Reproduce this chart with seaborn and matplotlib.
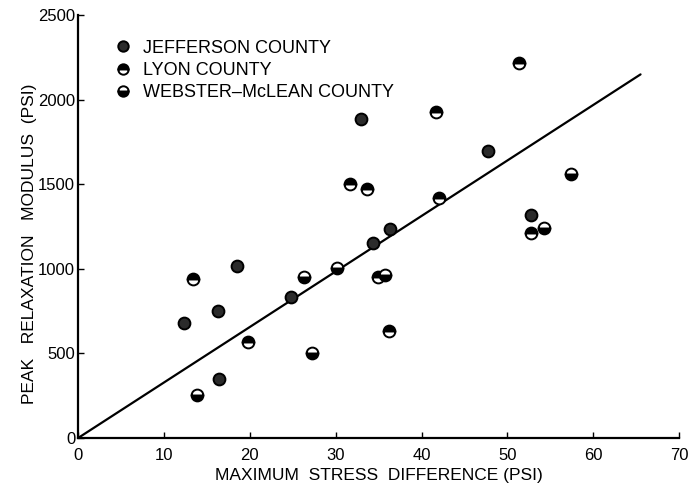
import matplotlib
matplotlib.use("Agg")
import matplotlib.pyplot as plt
from matplotlib.lines import Line2D
import seaborn as sns
import pandas as pd

# ---- data ----
jefferson_x = [12.3, 16.3, 18.5, 16.4, 24.8, 34.3, 36.3, 33.0, 47.7, 52.8]
jefferson_y = [680, 750, 1015, 350, 835, 1155, 1235, 1885, 1700, 1320]

lyon_x = [13.4, 19.8, 31.7, 33.7, 34.9, 36.2, 41.7, 51.3, 52.8, 42.0]
lyon_y = [940, 565, 1500, 1475, 950, 635, 1925, 2215, 1210, 1420]

webster_x = [13.8, 30.2, 26.3, 35.8, 27.2, 57.4, 54.3]
webster_y = [255, 1005, 955, 965, 505, 1560, 1240]

fit_x = [0.0, 65.5]
fit_y = [0.0, 2150.0]

county_labels = ["JEFFERSON COUNTY", "LYON COUNTY", "WEBSTER\u2013McLEAN COUNTY"]
x_ticks = [0, 10, 20, 30, 40, 50, 60, 70]
y_ticks = [0, 500, 1000, 1500, 2000, 2500]
x_label = "MAXIMUM  STRESS  DIFFERENCE (PSI)"
y_label = "PEAK   RELAXATION   MODULUS  (PSI)"

sns.set_style("ticks")
plt.rcParams["font.family"] = ["Liberation Sans", "DejaVu Sans"]
plt.rcParams["text.color"] = "black"
plt.rcParams["axes.labelcolor"] = "black"
plt.rcParams["xtick.color"] = "black"
plt.rcParams["ytick.color"] = "black"
plt.rcParams["axes.edgecolor"] = "black"

fig = plt.figure(figsize=(6.91, 4.90), dpi=100)
ax = fig.add_axes([0.1129, 0.106, 0.870, 0.863])

dark = "#2b2b2b"
ms = 8.5

# regression line
sns.lineplot(x=fit_x, y=fit_y, ax=ax, color="black", linewidth=1.6,
             estimator=None, sort=False)

common = dict(estimator=None, sort=False, linestyle="none", marker="o",
              markersize=ms, markeredgecolor="black", markeredgewidth=1.4,
              color="black", ax=ax)

sns.lineplot(x=jefferson_x, y=jefferson_y, markerfacecolor=dark,
             fillstyle="full", **common)
sns.lineplot(x=lyon_x, y=lyon_y, markerfacecolor="black",
             markerfacecoloralt="white", fillstyle="top", **common)
sns.lineplot(x=webster_x, y=webster_y, markerfacecolor="black",
             markerfacecoloralt="white", fillstyle="bottom", **common)

ax.set_xlim(0, 70)
ax.set_ylim(0, 2500)
ax.set_xticks(x_ticks)
ax.set_yticks(y_ticks)
ax.tick_params(direction="in", length=4, width=1, labelsize=12, pad=2,
               colors="black")
ax.tick_params(axis="x", pad=7)
for s in ["top", "right"]:
    ax.spines[s].set_visible(False)
for s in ["left", "bottom"]:
    ax.spines[s].set_linewidth(1.6)
    ax.spines[s].set_color("black")

ax.set_xlabel(x_label, fontsize=12.5, color="black")
ax.set_ylabel(y_label, fontsize=12.5, color="black")
ax.xaxis.set_label_coords(0.5, -0.07)
ax.yaxis.set_label_coords(-0.068, 0.46)

handles = [
    Line2D([], [], linestyle="none", marker="o", markersize=7.5,
           markerfacecolor=dark, markeredgecolor="black", markeredgewidth=1.4),
    Line2D([], [], linestyle="none", marker="o", markersize=7.5,
           markerfacecolor="black", markerfacecoloralt="white",
           fillstyle="top", markeredgecolor="black", markeredgewidth=1.4),
    Line2D([], [], linestyle="none", marker="o", markersize=7.5,
           markerfacecolor="black", markerfacecoloralt="white",
           fillstyle="bottom", markeredgecolor="black", markeredgewidth=1.4),
]
leg = ax.legend(handles, county_labels, loc="upper left",
                bbox_to_anchor=(0.03, 0.985),
                frameon=False, fontsize=13, handletextpad=0.6,
                labelspacing=0.3, handlelength=1.0, borderaxespad=0.6)
for t in leg.get_texts():
    t.set_color("black")

fig.savefig("out.png", dpi=100)
